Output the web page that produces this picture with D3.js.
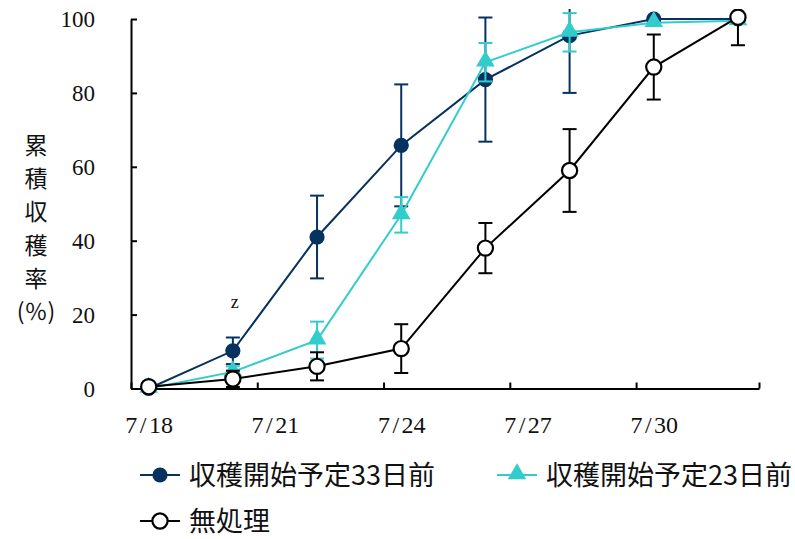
<!DOCTYPE html>
<html>
<head>
<meta charset="utf-8">
<script src="https://cdn.jsdelivr.net/npm/d3@7"></script>
<style>
  html, body { margin: 0; padding: 0; background: #fff; }
  svg { display: block; }
</style>
</head>
<body>
<svg id="chart" width="795" height="539"></svg>
<script>
// Harvest dates (every two days) and cumulative harvest rate (%) with error bars
const dates = ["7/18", "7/20", "7/22", "7/24", "7/26", "7/28", "7/30", "8/1"];
const pre33 = [0, 10.2, 41.0, 65.8, 83.6, 95.5, 100, 100];
const pre33Err = [0, 3.6, 11.2, 16.5, 16.8, 15.5, 0, 0];
const pre23 = [0, 4.5, 13.1, 47.0, 88.3, 96.4, 99.0, 99.5];
const pre23Err = [0, 1.5, 5.0, 4.8, 5.2, 5.2, 0, 0];
const control = [0.5, 2.6, 6.0, 10.8, 38.0, 59.0, 87.0, 100.5];
const controlErr = [0, 2.2, 3.8, 6.6, 6.8, 11.2, 8.8, 7.6];
const yTicks = [0, 20, 40, 60, 80, 100];
const xLabels = ["7/18", "7/21", "7/24", "7/27", "7/30"];
const seriesNames = ["収穫開始予定33日前", "収穫開始予定23日前", "無処理"];
const axisTitle = ["累", "積", "収", "穫", "率", "(％)"];
const noteText = "z";

const NUM_FONT = '"Liberation Serif", "DejaVu Serif", serif';
const JP_FONT = '"Noto Sans CJK JP", "Noto Sans", sans-serif';

const YEAR = 2020;
const DAY = 864e5;
const parseMD = s => { const [m, d] = s.split("/").map(Number); return new Date(YEAR, m - 1, d); };

const svg = d3.select("#chart");
const plotLeft = 131, plotRight = 759, plotTop = 19, plotBottom = 388.5;

const first = parseMD(dates[0]), last = parseMD(dates[dates.length - 1]);
const x = d3.scaleTime()
  .domain([new Date(+first - 0.42 * DAY), new Date(+last + 0.5 * DAY)])
  .range([plotLeft, plotRight]);
const y = d3.scaleLinear().domain([0, 100]).range([plotBottom, plotTop]);

const series = [
  { name: seriesNames[0], values: pre33, err: pre33Err, color: "#06325f", shape: "dot" },
  { name: seriesNames[1], values: pre23, err: pre23Err, color: "#33cccc", shape: "tri" },
  { name: seriesNames[2], values: control, err: controlErr, color: "#000000", shape: "open" }
];

// clip for marks at the top of the plot area
svg.append("defs").append("clipPath").attr("id", "plotClip")
  .append("rect").attr("x", plotLeft - 20).attr("y", 9).attr("width", plotRight - plotLeft + 40).attr("height", 440);

// Y axis (ticks inside)
const yAxis = svg.append("g").attr("transform", `translate(${plotLeft},0)`)
  .call(d3.axisLeft(y).tickValues(yTicks).tickSize(-6).tickPadding(36).tickSizeOuter(0));
yAxis.attr("font-family", NUM_FONT).attr("font-size", 23);
yAxis.select(".domain").attr("stroke", "#000").attr("stroke-width", 2);
yAxis.selectAll(".tick line").attr("stroke", "#000").attr("stroke-width", 2);
yAxis.selectAll(".tick text").attr("fill", "#111").attr("dy", "0.34em");

// X axis: tick marks on day boundaries, labels on the dates
const tickDates = xLabels.map(s => new Date(+parseMD(s) - 0.42 * DAY)).concat([new Date(+last + 0.5 * DAY)]);
const xTicks = svg.append("g").attr("transform", `translate(0,${plotBottom})`)
  .call(d3.axisBottom(x).tickValues(tickDates).tickSize(-6).tickFormat("").tickSizeOuter(0));
xTicks.select(".domain").attr("stroke", "#000").attr("stroke-width", 2);
xTicks.selectAll(".tick line").attr("stroke", "#000").attr("stroke-width", 2);

const fmt = d3.timeFormat("%-m/%-d");
const xLab = svg.append("g").attr("transform", `translate(0,${plotBottom})`)
  .call(d3.axisBottom(x).tickValues(xLabels.map(parseMD)).tickSize(0).tickPadding(27).tickFormat(fmt));
xLab.attr("font-family", NUM_FONT).attr("font-size", 24);
xLab.select(".domain").remove();
// month / day with a little room round the slash
xLab.selectAll(".tick text").attr("fill", "#111").each(function (d) {
  const [m, dd] = fmt(d).split("/");
  const t = d3.select(this).text(null);
  t.append("tspan").text(m);
  t.append("tspan").attr("dx", 2.5).text("/");
  t.append("tspan").attr("dx", 2.5).text(dd);
});

// Y axis title, stacked vertically
svg.append("g").selectAll("text").data(axisTitle).join("text")
  .attr("font-family", JP_FONT)
  .attr("x", 36)
  .attr("y", (d, i) => 146 + i * 33.1)
  .attr("dy", "0.36em")
  .attr("text-anchor", "middle")
  .attr("font-size", 23)
  .attr("fill", "#111")
  .text(d => d);

// note mark
svg.append("text").attr("font-family", NUM_FONT)
  .attr("x", x(parseMD(dates[1])) + 2).attr("y", 308)
  .attr("text-anchor", "middle").attr("font-size", 18).attr("fill", "#111")
  .text(noteText);

const triPath = d3.symbol().type(d3.symbolTriangle).size(150);

function drawMarker(g, s) {
  if (s.shape === "dot") {
    g.append("circle").attr("r", 7.6).attr("fill", s.color);
  } else if (s.shape === "tri") {
    g.append("path").attr("d", triPath()).attr("fill", s.color).attr("transform", "translate(0,-1)");
  } else {
    g.append("circle").attr("r", 7.6).attr("fill", "#fff").attr("stroke", s.color).attr("stroke-width", 2.2);
  }
}

const plot = svg.append("g").attr("clip-path", "url(#plotClip)");
const line = d3.line().x(d => x(d.date)).y(d => y(d.v));

series.forEach(s => {
  const pts = dates.map((d, i) => ({ date: parseMD(d), v: s.values[i], e: s.err[i] }));
  const g = plot.append("g");
  // error bars
  const eb = g.append("g").attr("stroke", s.color).attr("stroke-width", 2);
  pts.filter(p => p.e > 0).forEach(p => {
    const cx = x(p.date), y1 = y(p.v + p.e), y2 = y(p.v - p.e);
    eb.append("line").attr("x1", cx).attr("x2", cx).attr("y1", y1).attr("y2", y2);
    eb.append("line").attr("x1", cx - 7).attr("x2", cx + 7).attr("y1", y1).attr("y2", y1);
    eb.append("line").attr("x1", cx - 7).attr("x2", cx + 7).attr("y1", y2).attr("y2", y2);
  });
  g.append("path").datum(pts).attr("d", line)
    .attr("fill", "none").attr("stroke", s.color).attr("stroke-width", 2);
  pts.forEach(p => {
    const m = g.append("g").attr("transform", `translate(${x(p.date)},${y(p.v)})`);
    drawMarker(m, s);
  });
});

// Legend
const legendItems = [
  { s: series[0], x0: 140, yy: 475 },
  { s: series[1], x0: 497, yy: 475 },
  { s: series[2], x0: 140, yy: 521 }
];
const lg = svg.append("g");
legendItems.forEach(it => {
  const g = lg.append("g").attr("transform", `translate(${it.x0},${it.yy})`);
  g.append("line").attr("x1", 0).attr("x2", 40).attr("y1", 0).attr("y2", 0)
    .attr("stroke", it.s.color).attr("stroke-width", 2);
  const m = g.append("g").attr("transform", "translate(20,0)");
  drawMarker(m, it.s);
  g.append("text").attr("font-family", JP_FONT).attr("x", 49).attr("y", 0).attr("dy", "0.36em")
    .attr("font-size", 27).attr("fill", "#111").text(it.s.name);
});
</script>
</body>
</html>
